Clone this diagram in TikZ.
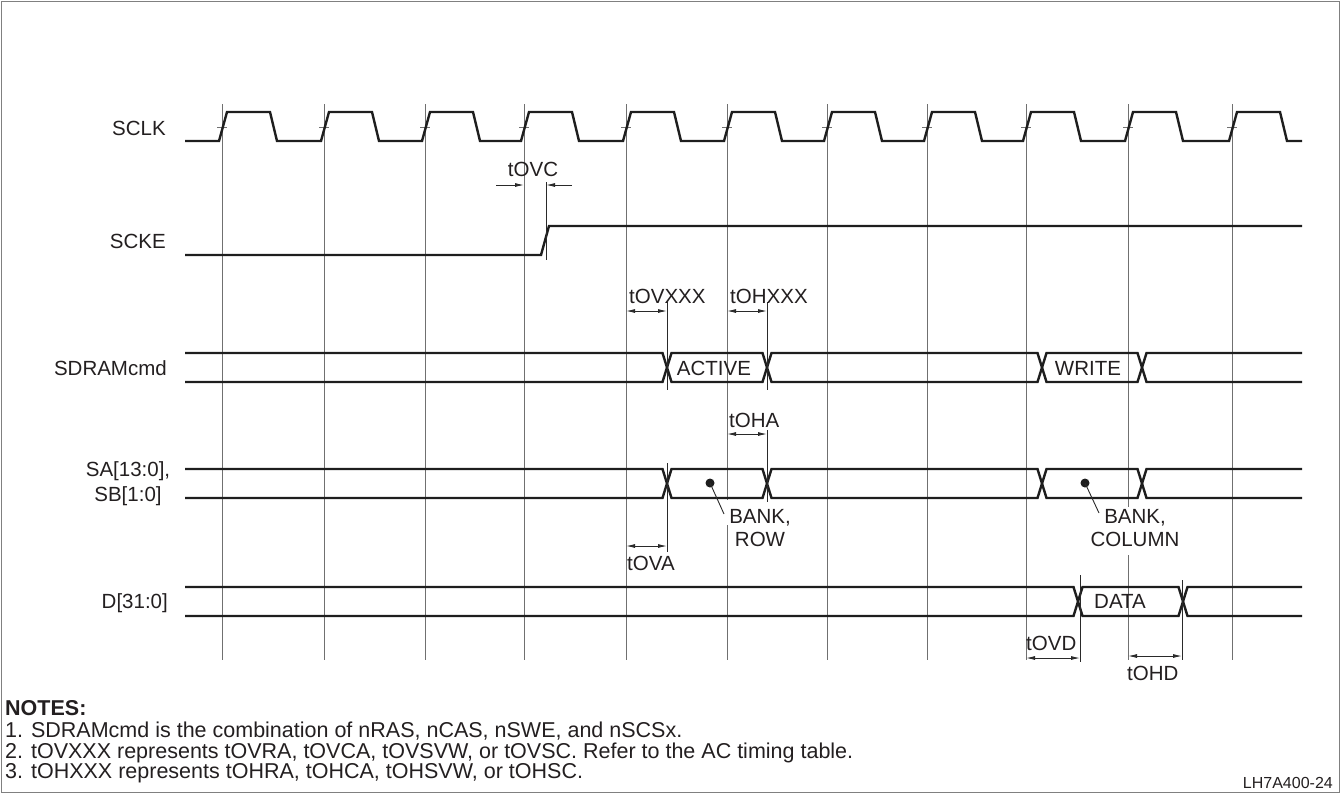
\documentclass[tikz,border=0pt]{standalone}
\usepackage{fontspec}
\setmainfont{Liberation Sans}
\usetikzlibrary{arrows.meta}
\definecolor{wavec}{HTML}{1E1E1E}
\definecolor{gridc}{HTML}{707070}
\definecolor{markc}{HTML}{2A2A2A}
\definecolor{textc}{HTML}{231F20}
\definecolor{framec}{HTML}{808080}
\newcommand\hexseg[4]{%
  \draw[wave] (#1,{(#3+#4)/2}) -- (#1+4.5,#3) -- (#2-4.5,#3) -- (#2,{(#3+#4)/2}) -- (#2-4.5,#4) -- (#1+4.5,#4) -- cycle;}
\begin{document}
\begin{tikzpicture}[x=1pt,y=-1pt,
  wave/.style={line width=2.4pt, draw=wavec},
  gridl/.style={line width=1pt, draw=gridc},
  tickl/.style={line width=0.8pt, draw=gridc},
  markl/.style={line width=0.9pt, draw=markc},
  dim/.style={line width=0.9pt, draw=markc, fill=markc, {Latex[length=9pt,width=4pt]}-{Latex[length=9pt,width=4pt]}},
  dimin/.style={line width=0.9pt, draw=markc, -{Latex[length=9pt,width=4pt]}},
  lbl/.style={font=\fontsize{20.5}{23}\selectfont, text=textc, inner sep=0pt},
  note/.style={font=\fontsize{21.5}{22}\selectfont, text=textc, inner sep=0pt, anchor=base west},
  dotn/.style={circle, fill=wavec, inner sep=0pt, minimum size=9pt}
]
\useasboundingbox (0,0) rectangle (1340,793);
\draw[framec, line width=1pt] (1,1) rectangle (1339,792);

% grid lines
\foreach \g in {222,324,425,524,626,827,927,1026,1232}
  \draw[gridl] (\g,104) -- (\g,660);
\draw[gridl] (727,104) -- (727,500) (727,525) -- (727,660);
\draw[gridl] (1128,104) -- (1128,507) (1128,555) -- (1128,660);

% clock ticks
\foreach \g in {222,324,425,524,626,727,827,927,1026,1128,1232}
  \draw[tickl] (\g-5,127) -- (\g+5,127);

% SCLK
\draw[wave] (185,141)
  foreach \g in {222,324,425,524,626,727,827,927,1026,1128,1232}
  { -- (\g-3,141) -- (\g+5,112) -- (\g+48,112) -- (\g+55,141) } -- (1302,141);

% SCKE
\draw[wave] (185,255) -- (541,255) -- (549,226) -- (1302,226);

% SDRAMcmd bus
\draw[wave] (185,353) -- (662.5,353) -- (667,367.5) -- (662.5,382) -- (185,382);
\hexseg{667}{767}{353}{382}
\hexseg{767}{1042}{353}{382}
\hexseg{1042}{1142}{353}{382}
\draw[wave] (1302,353) -- (1146.5,353) -- (1142,367.5) -- (1146.5,382) -- (1302,382);

% SA bus
\draw[wave] (185,469) -- (662.5,469) -- (667,483.5) -- (662.5,498) -- (185,498);
\hexseg{667}{767}{469}{498}
\hexseg{767}{1042}{469}{498}
\hexseg{1042}{1142}{469}{498}
\draw[wave] (1302,469) -- (1146.5,469) -- (1142,483.5) -- (1146.5,498) -- (1302,498);

% D bus
\draw[wave] (185,587) -- (1073.5,587) -- (1078,601.5) -- (1073.5,616) -- (185,616);
\hexseg{1078}{1183}{587}{616}
\draw[wave] (1302,587) -- (1187.5,587) -- (1183,601.5) -- (1187.5,616) -- (1302,616);

% marker lines
\draw[markl] (546,182) -- (546,260);
\draw[markl] (667,302) -- (667,390);
\draw[markl] (767,302) -- (767,390);
\draw[markl] (767,430) -- (767,502);
\draw[markl] (667,463) -- (667,552);
\draw[markl] (1080,575) -- (1080,662);
\draw[markl] (1182,580) -- (1182,660);

% dimension arrows
\coordinate (ovc1) at (496,185); \coordinate (ovc1e) at (524,185);
\coordinate (ovc2) at (572,185); \coordinate (ovc2e) at (546,185);
\draw[dimin] (ovc1) -- (ovc1e);
\draw[dimin] (ovc2) -- (ovc2e);
\coordinate (ovx1) at (626,311); \coordinate (ovx2) at (667,311);
\draw[dim] (ovx1) -- (ovx2);
\coordinate (ohx1) at (727,311); \coordinate (ohx2) at (767,311);
\draw[dim] (ohx1) -- (ohx2);
\coordinate (oha1) at (727,434); \coordinate (oha2) at (767,434);
\draw[dim] (oha1) -- (oha2);
\coordinate (ova1) at (626,546); \coordinate (ova2) at (667,546);
\draw[dim] (ova1) -- (ova2);
\coordinate (ovd1) at (1026,658); \coordinate (ovd2) at (1080,658);
\draw[dim] (ovd1) -- (ovd2);
\coordinate (ohd1) at (1128,656); \coordinate (ohd2) at (1182,656);
\draw[dim] (ohd1) -- (ohd2);

% signal labels
\node[lbl, anchor=base east] (sclk) at (166,135) {SCLK};
\node[lbl, anchor=base east] (scke) at (166,248) {SCKE};
\node[lbl, anchor=base east] (cmd) at (167,375) {SDRAMcmd};
\node[lbl, align=center, font=\fontsize{20.5}{25}\selectfont] (sa) at (128,484) {SA[13:0],\\SB[1:0]};
\node[lbl, anchor=base east] (d) at (168,608) {D[31:0]};

% timing labels
\node[lbl, anchor=base] (tovc) at (533,176) {tOVC};
\node[lbl, anchor=base west] (tovx) at (629,303) {tOVXXX};
\node[lbl, anchor=base west] (tohx) at (730,303) {tOHXXX};
\node[lbl, anchor=base west] (toha) at (729,427) {tOHA};
\node[lbl, anchor=base west] (tova) at (627,570) {tOVA};
\node[lbl, anchor=base west] (tovd) at (1026,650) {tOVD};
\node[lbl, anchor=base west] (tohd) at (1127,680) {tOHD};

% bus contents
\node[lbl, anchor=base] (active) at (714,375) {ACTIVE};
\node[lbl, anchor=base] (write) at (1088,375) {WRITE};
\node[lbl, anchor=base] (data) at (1120,608) {DATA};

% bank labels with dots
\node[dotn] (dotrow) at (710,483) {};
\node[lbl, align=center] (bankrow) at (760,528) {BANK,\\ROW};
\coordinate (rowend) at (724,514);
\draw[markl] (dotrow.center) -- (rowend);
\node[dotn] (dotcol) at (1085,483) {};
\node[lbl, align=center] (bankcol) at (1135,528) {BANK,\\COLUMN};
\coordinate (colend) at (1099,513);
\draw[markl] (dotcol.center) -- (colend);

% notes
\node[note] (notes) at (5,715) {\bfseries NOTES:};
\node[note] (n1) at (5,737) {1. SDRAMcmd is the combination of nRAS, nCAS, nSWE, and nSCSx.};
\node[note] (n2) at (5,758) {2. tOVXXX represents tOVRA, tOVCA, tOVSVW, or tOVSC. Refer to the AC timing table.};
\node[note] (n3) at (5,778) {3. tOHXXX represents tOHRA, tOHCA, tOHSVW, or tOHSC.};
\node[lbl, font=\fontsize{16}{18}\selectfont, anchor=base east] (fig) at (1333,788) {LH7A400-24};
\end{tikzpicture}
\end{document}
